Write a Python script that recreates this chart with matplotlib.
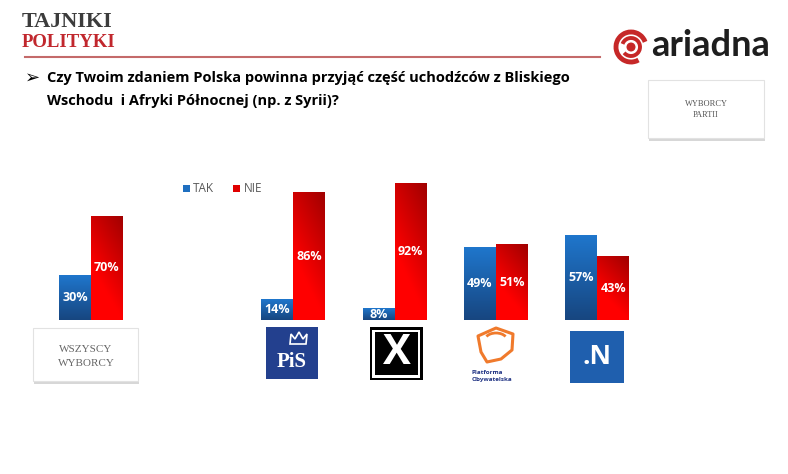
import numpy as np
import matplotlib.pyplot as plt
from matplotlib.patches import Rectangle, Polygon, Arc, Circle

# data
groups = ['Wszyscy wyborcy', 'PiS', 'Kukiz', 'PO', 'Nowoczesna']
group_pos = [0, 2, 3, 4, 5]
tak = [30, 14, 8, 49, 57]
nie = [70, 86, 92, 51, 43]
series = ['TAK', 'NIE']
question = ['Czy Twoim zdaniem Polska powinna przyjąć część uchodźców z Bliskiego',
            'Wschodu  i Afryki Północnej (np. z Syrii)?']

SANS = ['Open Sans', 'DejaVu Sans']
SERIF = ['Liberation Serif', 'DejaVu Serif']

W, H = 788, 474
fig = plt.figure(figsize=(W / 100, H / 100), dpi=100)

# decoration layer in pixel coordinates
deco = fig.add_axes([0, 0, 1, 1])
deco.set_xlim(0, W)
deco.set_ylim(H, 0)
deco.axis('off')

# header
deco.text(22, 22, 'TAJNIKI', fontsize=16, fontweight='bold', family=SERIF,
          color='#3c3c3c', va='center', ha='left')
deco.text(22, 42, 'POLITYKI', fontsize=13.5, fontweight='bold', family=SERIF,
          color='#c1272d', va='center', ha='left')
deco.plot([25, 600], [57, 57], color='#c46a6a', lw=1.5)

# ariadna logo
deco.add_patch(Arc((631, 47), 30, 30, theta1=60, theta2=340, color='#c62828', lw=3.5))
deco.add_patch(Arc((631, 47), 18, 18, theta1=200, theta2=500, color='#c62828', lw=2.8))
deco.add_patch(Circle((631, 47), 3.8, color='#c62828'))
deco.text(651, 45, 'ariadna', fontsize=26, fontweight='bold', family=['Lato', 'DejaVu Sans'],
          color='#1e1e1e', va='center', ha='left')

# question
deco.text(25, 78, '➢', fontsize=13, family=['DejaVu Sans'], color='black', va='center', ha='left')
deco.text(47, 78, question[0], fontsize=10.5, fontweight='bold', family=SANS,
          color='black', va='center', ha='left')
deco.text(47, 101, question[1], fontsize=10.5, fontweight='bold', family=SANS,
          color='black', va='center', ha='left')

def shadow_box(x0, y0, w, h):
    deco.add_patch(Rectangle((x0 + 1, y0 + 3), w, h, facecolor='#bdbdbd', edgecolor='none', alpha=0.6))
    deco.add_patch(Rectangle((x0, y0), w, h, facecolor='white', edgecolor='#e2e2e2', lw=0.8))

shadow_box(648, 80, 116, 58)
deco.text(706, 104, 'WYBORCY', fontsize=6, family=SERIF, color='#555555', ha='center', va='center')
deco.text(706, 115, 'PARTII', fontsize=6, family=SERIF, color='#555555', ha='center', va='center')

# logos under the bars
shadow_box(33, 328, 105, 53)
deco.text(86, 350, 'WSZYSCY', fontsize=8, family=SERIF, color='#666666', ha='center', va='center')
deco.text(86, 363, 'WYBORCY', fontsize=8, family=SERIF, color='#666666', ha='center', va='center')

deco.add_patch(Rectangle((266, 327), 52, 52, facecolor='#23408e', edgecolor='none'))
deco.add_patch(Polygon([(290, 344), (291, 334), (295, 339), (299, 332), (303, 339),
                        (307, 334), (306, 344)], closed=True, facecolor='none',
                       edgecolor='white', lw=1.2))
deco.text(292, 362, 'PiS', fontsize=15, fontweight='bold', family=SERIF, color='white',
          ha='center', va='center')

deco.add_patch(Rectangle((370, 327), 53, 53, facecolor='black', edgecolor='none'))
deco.add_patch(Rectangle((372.5, 329.5), 48, 48, facecolor='white', edgecolor='none'))
deco.add_patch(Rectangle((375, 332), 43, 43, facecolor='black', edgecolor='none'))
deco.text(396.5, 354, 'X', fontsize=30, fontweight='bold', family=SANS, color='white',
          ha='center', va='center')

deco.add_patch(Polygon([(478, 336), (496, 328), (513, 334), (512, 350), (501, 359),
                        (487, 362), (481, 352)], closed=True, facecolor='none',
                       edgecolor='#f07a2c', lw=2.2, joinstyle='round'))
deco.add_patch(Arc((496, 340), 22, 14, theta1=200, theta2=340, color='#f07a2c', lw=2))
deco.text(472, 372, 'Platforma', fontsize=4.5, fontweight='bold', family=SANS,
          color='#1f3283', ha='left', va='center')
deco.text(472, 379, 'Obywatelska', fontsize=4.5, fontweight='bold', family=SANS,
          color='#1f3283', ha='left', va='center')

deco.add_patch(Rectangle((570, 331), 54, 52, facecolor='#1f5fae', edgecolor='none'))
deco.text(597, 357, '.N', fontsize=19, fontweight='bold', family=SANS, color='white',
          ha='center', va='center')

# bar chart axes: baseline at y=320 px, 100% = 148.6 px
ax = fig.add_axes([20 / W, (H - 320) / H, 648 / W, 148.6 / H])
ax.patch.set_alpha(0)
for s in ax.spines.values():
    s.set_visible(False)
ax.set_xticks([])
ax.set_yticks([])

bw = 0.315
x = np.array(group_pos)
bars_tak = ax.bar(x - bw / 2, tak, bw, color='#1f6fc0', label=series[0], zorder=1)
bars_nie = ax.bar(x + bw / 2, nie, bw, color='#e00000', label=series[1], zorder=1)

# gradient fills clipped to each bar
n = 64
v = np.linspace(1, 0, n)[:, None]          # 1 at top
hh = np.linspace(0, 1, n)[None, :]
blue_top = np.array([31, 118, 204]) / 255
blue_bot = np.array([23, 70, 128]) / 255
tb = np.repeat(v, n, axis=1)[..., None]
blue_img = blue_bot + (blue_top - blue_bot) * tb
red_dark = np.array([150, 0, 0]) / 255
red_lite = np.array([255, 0, 0]) / 255
td = np.clip(0.9 * v + 0.45 * hh - 0.45, 0, 1)[..., None]
red_img = red_lite + (red_dark - red_lite) * td

for bars, img in ((bars_tak, blue_img), (bars_nie, red_img)):
    for b in bars:
        x0, y0 = b.get_x(), b.get_y()
        im = ax.imshow(img, extent=[x0, x0 + b.get_width(), y0, y0 + b.get_height()],
                       aspect='auto', zorder=2, interpolation='bilinear')
        im.set_clip_path(b)

for bars, vals in ((bars_tak, tak), (bars_nie, nie)):
    for b, val in zip(bars, vals):
        ax.text(b.get_x() + b.get_width() / 2, max(val / 2, 4), f'{val}%',
                ha='center', va='center', color='white', fontsize=9,
                fontweight='bold', family=SANS, zorder=3)

ax.set_xlim(-0.7, 5.7)
ax.set_ylim(0, 100)

leg = fig.legend(handles=[bars_tak, bars_nie], labels=series, loc='center left',
                 bbox_to_anchor=(172 / W, 1 - 189 / H), ncol=2, frameon=False,
                 handlelength=0.6, handleheight=0.6, handletextpad=0.3,
                 columnspacing=1.6, prop={'family': SANS, 'size': 8.5})
for t in leg.get_texts():
    t.set_color('#595959')

fig.savefig('out.png', dpi=100)
